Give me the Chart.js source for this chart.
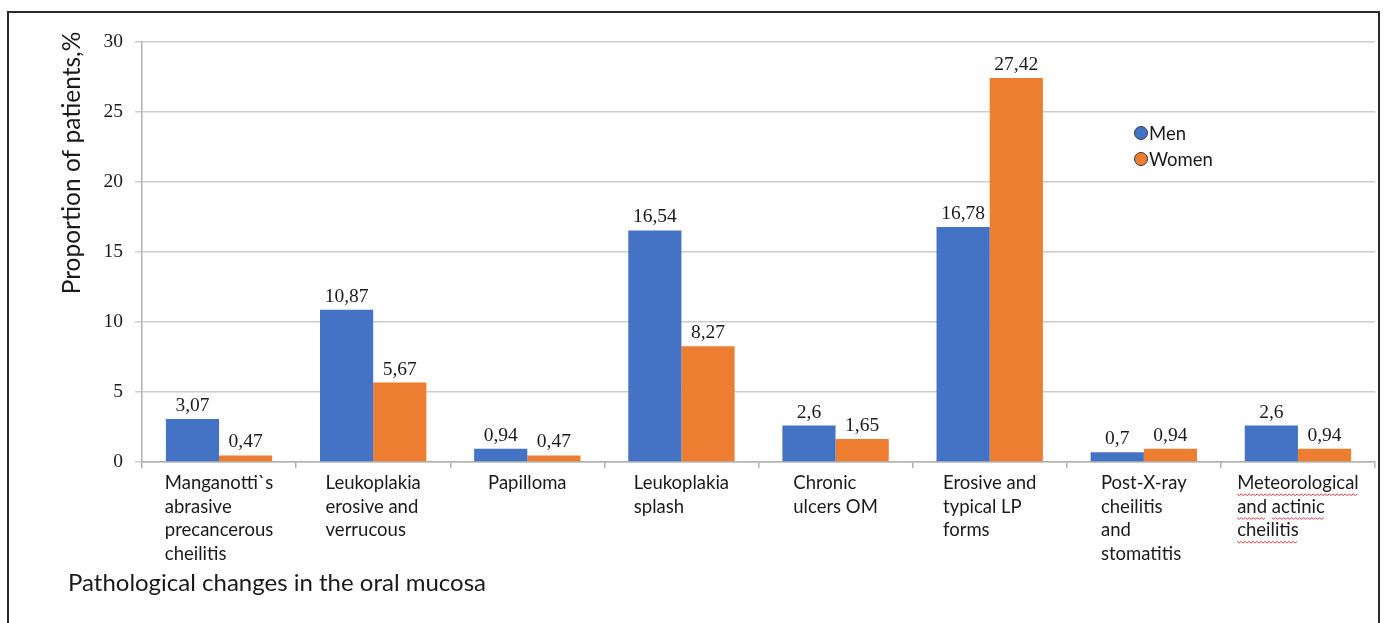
<!DOCTYPE html>
<html>
<head>
<meta charset="utf-8">
<script src="https://cdn.jsdelivr.net/npm/chart.js@4.4.1/dist/chart.umd.min.js"></script>
<style>
  html, body { margin: 0; padding: 0; background: #ffffff; overflow: hidden; }
  #frame { position: absolute; left: 7px; top: 11px; width: 1369px; height: 700px; border: 2px solid #2a2a2a; }
  #c { position: absolute; left: 0; top: 0; }
</style>
</head>
<body>
<div id="frame"></div>
<canvas id="c" width="1384" height="623"></canvas>
<script>
// Share of patients with each oral-mucosa lesion, by sex (%)
const categories = [
  ["Manganotti`s", "abrasive", "precancerous", "cheilitis"],
  ["Leukoplakia", "erosive and", "verrucous"],
  ["Papilloma"],
  ["Leukoplakia", "splash"],
  ["Chronic", "ulcers OM"],
  ["Erosive and", "typical LP", "forms"],
  ["Post-X-ray", "cheilitis", "and", "stomatitis"],
  ["Meteorological", "and actinic", "cheilitis"]
];
const menValues   = [3.07, 10.87, 0.94, 16.54, 2.6, 16.78, 0.7, 2.6];
const womenValues = [0.47, 5.67, 0.47, 8.27, 1.65, 27.42, 0.94, 0.94];
const seriesNames = ["Men", "Women"];
const yTicks = [0, 5, 10, 15, 20, 25, 30];
const yTitle = "Proportion of patients,%";
const xTitle = "Pathological changes in the oral mucosa";

const SANS = "Lato, 'Open Sans', sans-serif";
const SERIF = "'Liberation Serif', 'DejaVu Serif', serif";

const fmt = v => String(v).replace('.', ',');

// Value labels above each bar, comma as decimal separator
const valueLabels = {
  id: 'valueLabels',
  afterDatasetsDraw(chart) {
    const ctx = chart.ctx;
    ctx.save();
    ctx.font = "19.5px " + SERIF;
    ctx.fillStyle = "#1a1a1a";
    ctx.textAlign = "center";
    ctx.textBaseline = "alphabetic";
    chart.data.datasets.forEach((ds, di) => {
      chart.getDatasetMeta(di).data.forEach((bar, i) => {
        ctx.fillText(fmt(ds.data[i]), bar.x, bar.y - 8);
      });
    });
    ctx.restore();
  }
};

// Category names: left-aligned lines in a block centred under each group
const categoryLabels = {
  id: 'categoryLabels',
  afterDraw(chart) {
    const ctx = chart.ctx;
    const x = chart.scales.x;
    ctx.save();
    ctx.font = "18.5px " + SANS;
    ctx.fillStyle = "#1a1a1a";
    ctx.textAlign = "left";
    ctx.textBaseline = "middle";
    const top = chart.chartArea.bottom + 21;
    const lh = 23.7;
    categories.forEach((lines, i) => {
      const cx = x.getPixelForValue(i);
      const w = Math.max(...lines.map(l => ctx.measureText(l).width));
      const left = cx - w / 2;
      lines.forEach((line, k) => {
        const y = top + k * lh;
        ctx.fillText(line, left, y);
        if (i === categories.length - 1) {
          // spell-check squiggle under each word
          let wx = left;
          line.split(' ').forEach(word => {
            const ww = ctx.measureText(word).width;
            ctx.save();
            ctx.strokeStyle = "#e04040";
            ctx.lineWidth = 1;
            ctx.beginPath();
            const by = y + 11;
            for (let p = 0; p <= ww; p += 2) {
              const yy = by + ((p / 2) % 2 === 0 ? 0 : 1.6);
              if (p === 0) ctx.moveTo(wx + p, yy); else ctx.lineTo(wx + p, yy);
            }
            ctx.stroke();
            ctx.restore();
            wx += ww + ctx.measureText(' ').width;
          });
        }
      });
    });
    ctx.restore();
  }
};

// Axis titles and the legend
const annotations = {
  id: 'annotations',
  afterDraw(chart) {
    const ctx = chart.ctx;
    ctx.save();
    ctx.fillStyle = "#1a1a1a";
    ctx.font = "24px " + SANS;
    ctx.textBaseline = "middle";
    ctx.textAlign = "left";
    ctx.fillText(xTitle, 68, 583);

    ctx.translate(72, 163);
    ctx.rotate(-Math.PI / 2);
    ctx.textAlign = "center";
    ctx.font = "24.5px " + SANS;
    ctx.fillText(yTitle, 0, 0);
    ctx.restore();

    ctx.save();
    ctx.font = "18.5px " + SANS;
    ctx.textBaseline = "middle";
    ctx.textAlign = "left";
    chart.data.datasets.forEach((ds, i) => {
      const y = 133 + i * 26;
      ctx.beginPath();
      ctx.arc(1141, y, 6.5, 0, Math.PI * 2);
      ctx.fillStyle = ds.backgroundColor;
      ctx.fill();
      ctx.lineWidth = 1;
      ctx.strokeStyle = "#3a3a3a";
      ctx.stroke();
      ctx.fillStyle = "#1a1a1a";
      ctx.fillText(ds.label, 1149, y + 1);
    });
    ctx.restore();
  }
};

new Chart(document.getElementById('c'), {
  type: 'bar',
  data: {
    labels: categories.map(l => l.join(' ')),
    datasets: [
      { label: seriesNames[0], data: menValues, backgroundColor: '#4472C4' },
      { label: seriesNames[1], data: womenValues, backgroundColor: '#ED7D31' }
    ]
  },
  options: {
    responsive: false,
    animation: false,
    events: [],
    layout: { padding: { left: 0, top: 42, right: 9, bottom: 0 } },
    datasets: { bar: { categoryPercentage: 0.69, barPercentage: 1.0, borderWidth: 0 } },
    plugins: { legend: { display: false }, tooltip: { enabled: false } },
    scales: {
      x: {
        offset: true,
        grid: { display: true, drawOnChartArea: false, drawTicks: true, tickLength: 6, color: '#b0b0b0', lineWidth: 1.5 },
        border: { display: true, color: '#b0b0b0', width: 1.5 },
        ticks: { display: false },
        afterFit(scale) { scale.height = 161; }
      },
      y: {
        min: 0, max: 30,
        afterBuildTicks(scale) { scale.ticks = yTicks.map(v => ({ value: v })); },
        grid: { color: '#cccccc', lineWidth: 1.5, tickLength: 7 },
        border: { display: true, color: '#b0b0b0', width: 1.5 },
        ticks: { font: { family: SERIF, size: 19.5 }, color: '#1a1a1a', padding: 12 },
        afterFit(scale) { scale.width = 142; }
      }
    }
  },
  plugins: [valueLabels, categoryLabels, annotations]
});
</script>
</body>
</html>
